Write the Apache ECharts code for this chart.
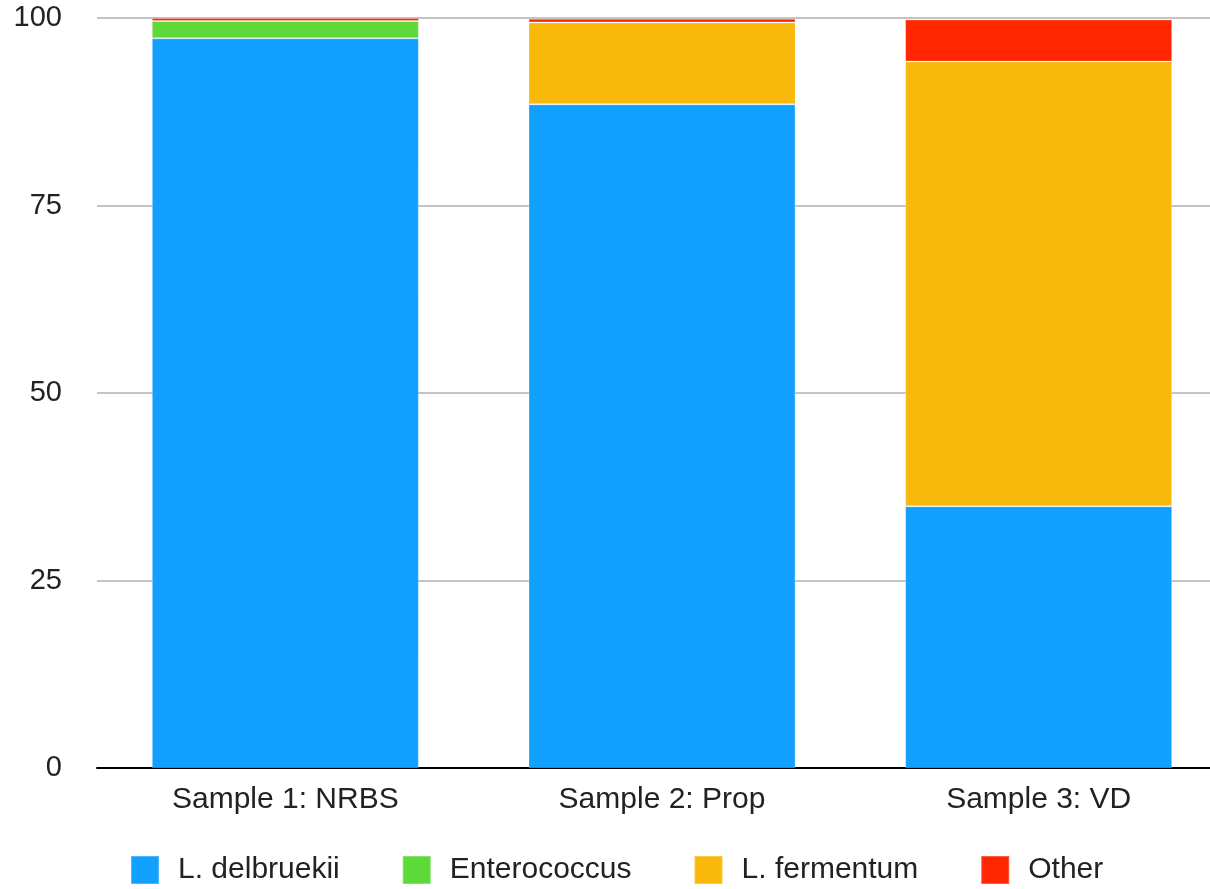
<!DOCTYPE html>
<html>
<head>
<meta charset="utf-8">
<script src="https://cdn.jsdelivr.net/npm/echarts@6/dist/echarts.min.js"></script>
<style>
html,body{margin:0;padding:0;background:#fff;overflow:hidden;}
#chart{width:1210px;height:889px;}
</style>
</head>
<body>
<div id="chart"></div>
<script>
const categories = ['Sample 1: NRBS', 'Sample 2: Prop', 'Sample 3: VD'];
const seriesNames = ['L. delbruekii', 'Enterococcus', 'L. fermentum', 'Other'];
const delbruekii = [97.3, 88.5, 34.9];
const enterococcus = [2.3, 0, 0];
const fermentum = [0, 10.9, 59.3];
const other = [0.4, 0.5, 5.6];
const yTicks = [0, 25, 50, 75, 100];

const colors = ['#12a0ff', '#5fd83a', '#f8b90b', '#ff2600'];
const values = [delbruekii, enterococcus, fermentum, other];

const chart = echarts.init(document.getElementById('chart'), null, {renderer: 'canvas'});
const font = 'Liberation Sans, Arial, Helvetica, sans-serif';

chart.setOption({
  animation: false,
  backgroundColor: '#ffffff',
  color: colors,
  grid: {left: 97, right: -17, top: 18, bottom: 121, containLabel: false, outerBoundsMode: 'none'},
  legend: {
    left: 125,
    top: 850,
    itemWidth: 28,
    itemHeight: 28,
    itemGap: 62,
    icon: 'rect',
    data: seriesNames,
    textStyle: {fontFamily: font, fontSize: 30, color: '#222', padding: [0, 0, 0, 14]}
  },
  xAxis: {
    type: 'category',
    data: categories,
    axisLine: {lineStyle: {color: '#000', width: 2}},
    axisTick: {show: false},
    axisLabel: {fontFamily: font, fontSize: 30, color: '#222', margin: 17}
  },
  yAxis: {
    type: 'value',
    min: yTicks[0],
    max: yTicks[yTicks.length - 1],
    interval: 25,
    axisLine: {show: false},
    axisTick: {show: false},
    axisLabel: {fontFamily: font, fontSize: 29, color: '#222', margin: 35},
    splitLine: {lineStyle: {color: '#c4c4c4', width: 2}}
  },
  series: seriesNames.map((name, i) => ({
    name: name,
    type: 'bar',
    stack: 'total',
    barWidth: 267,
    data: values[i],
    itemStyle: {color: colors[i], borderColor: 'rgba(255,255,255,0.25)', borderWidth: 1}
  }))
});
</script>
</body>
</html>
